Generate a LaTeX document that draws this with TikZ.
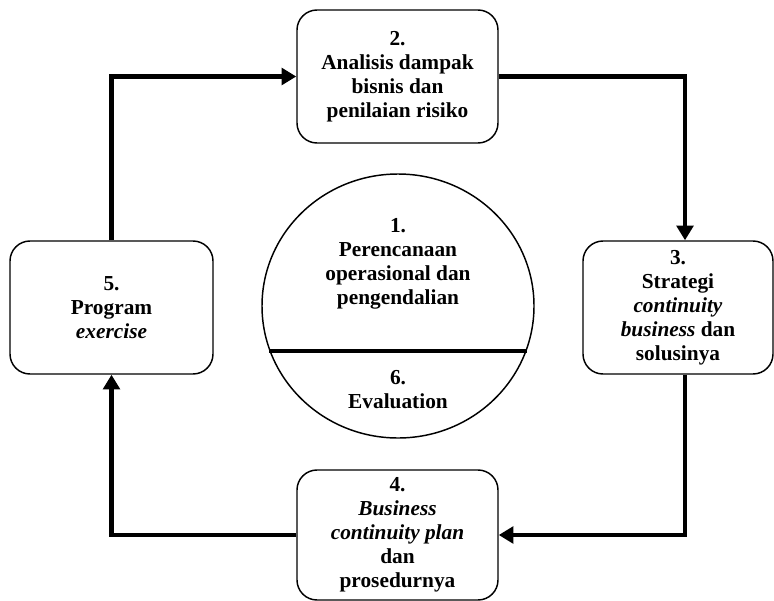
\documentclass[tikz,border=0pt]{standalone}
\usepackage{fontspec}
\setmainfont{Liberation Serif}
\usetikzlibrary{arrows.meta,positioning,calc}

\begin{document}
\begin{tikzpicture}[x=0.75pt,y=-0.75pt,
  box/.style={draw,line width=1.1pt,rounded corners=15pt,align=center,
    font=\fontsize{16}{18}\selectfont\bfseries,inner sep=0pt},
  lbl/.style={align=center,font=\fontsize{16}{18}\selectfont\bfseries},
  flow/.style={line width=3.6pt,-{Triangle[length=11pt,width=12.5pt]}}]
% Page
  \useasboundingbox (0,0) rectangle (774,600);
% Step 2 (top)
  \node[box,minimum width=150.75pt,minimum height=99.75pt] (ana) at (397.5,76.5)
    {2.\\Analisis dampak\\bisnis dan\\penilaian risiko};
% Step 3 (right)
  \node[box,minimum width=142.5pt,minimum height=99.75pt] (str) at (678,307.5)
    {3.\\Strategi\\\textit{continuity}\\\textit{business} dan\\solusinya};
% Step 4 (bottom)
  \node[box,minimum width=150.75pt,minimum height=97.5pt] (bcp) at (397.5,535)
    {4.\\\textit{Business}\\\textit{continuity plan}\\dan\\prosedurnya};
% Step 5 (left)
  \node[box,minimum width=152.25pt,minimum height=99.75pt] (prg) at (111.5,307.5)
    {5.\\Program\\\textit{exercise}};
% Centre: planning and evaluation
  \draw[line width=1.1pt] (398,306) ellipse [x radius=102pt,y radius=99pt];
  \draw[line width=3pt] (269,351) -- (527,351);
  \node[lbl] (plan) at (398,264) {1.\\Perencanaan\\operasional dan\\pengendalian};
  \node[lbl] (eval) at (398,390) {6.\\Evaluation};
% Cycle arrows
  \draw[flow] (prg.north) |- (ana.west);
  \draw[flow] (ana.east) -| ([xshift=5.25pt]str.north);
  \draw[flow] ([xshift=5.25pt]str.south) |- (bcp.east);
  \draw[flow] (bcp.west) -| (prg.south);
\end{tikzpicture}
\end{document}
